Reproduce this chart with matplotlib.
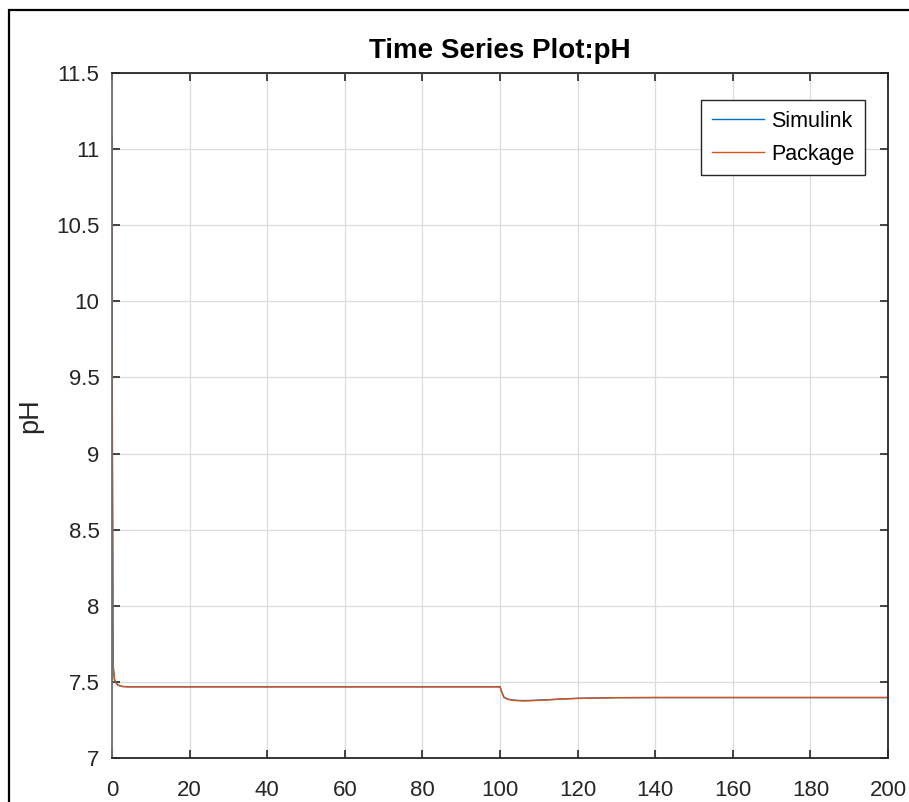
import matplotlib
matplotlib.use("Agg")
import matplotlib.pyplot as plt
from matplotlib.patches import Rectangle
from matplotlib.ticker import FormatStrFormatter, MultipleLocator

plt.rcParams["font.family"] = ["Liberation Sans", "DejaVu Sans"]

# values
time_s = [0, 0.1, 0.3, 0.6, 1.0, 1.5, 2.5, 4, 100, 100.5, 101, 102, 103,
          104, 106, 108, 112, 116, 120, 125, 130, 140, 200]
ph_simulink = [11.08, 9.0, 7.6, 7.52, 7.495, 7.48, 7.47, 7.468, 7.468, 7.43,
               7.40, 7.387, 7.382, 7.379, 7.377, 7.378, 7.382, 7.388, 7.392,
               7.394, 7.396, 7.397, 7.397]
ph_package = [11.08, 9.0, 7.62, 7.52, 7.494, 7.479, 7.47, 7.467, 7.467, 7.43,
              7.398, 7.385, 7.380, 7.377, 7.375, 7.376, 7.381, 7.387, 7.391,
              7.394, 7.396, 7.397, 7.397]

blue = (0.0, 0.447, 0.741)
orange = (0.85, 0.325, 0.098)
dark = "#262626"

fig = plt.figure(figsize=(9.09, 8.02), dpi=100)
ax = fig.add_axes([0.1232, 0.0549, 0.8537, 0.8541])

ax.plot(time_s, ph_simulink, color=blue, lw=1.0, label="Simulink")
ax.plot(time_s, ph_package, color=orange, lw=1.0, label="Package")

ax.set_xlim(0, 200)
ax.set_ylim(7, 11.5)
ax.xaxis.set_major_locator(MultipleLocator(20))
ax.yaxis.set_major_locator(MultipleLocator(0.5))
ax.yaxis.set_major_formatter(FormatStrFormatter("%g"))
ax.grid(True, color="#dcdcdc", lw=0.9)
ax.set_axisbelow(True)
ax.tick_params(direction="in", length=5.5, width=1.2, top=True, right=True,
               labelsize=16, colors=dark, labelcolor=dark)
ax.tick_params(axis="x", pad=16)
ax.tick_params(axis="y", pad=9)
for side in ("top", "bottom", "right"):
    ax.spines[side].set_color(dark)
    ax.spines[side].set_linewidth(1.3)
ax.spines["left"].set_color("#6e6e6e")
ax.spines["left"].set_linewidth(1.3)

ax.set_title("Time Series Plot:pH", fontsize=20, fontweight="bold", pad=11,
             color="black")
ax.set_ylabel("pH", fontsize=19.5, labelpad=9, color=dark)

leg = ax.legend(loc="upper right", bbox_to_anchor=(0.9704, 0.9606),
                borderaxespad=0, fontsize=15.5, frameon=True, fancybox=False,
                edgecolor=dark, framealpha=1, handlelength=2.45,
                handletextpad=0.3, borderpad=0.5, labelspacing=0.55)
leg.get_frame().set_linewidth(1.0)

# outer frame, cut off at right and bottom
fig.add_artist(Rectangle((0.0099, -0.2), 1.5, 0.9875 + 0.2, fill=False,
                         edgecolor="black", lw=1.6,
                         transform=fig.transFigure, clip_on=False))

fig.savefig("out.png", dpi=100)
